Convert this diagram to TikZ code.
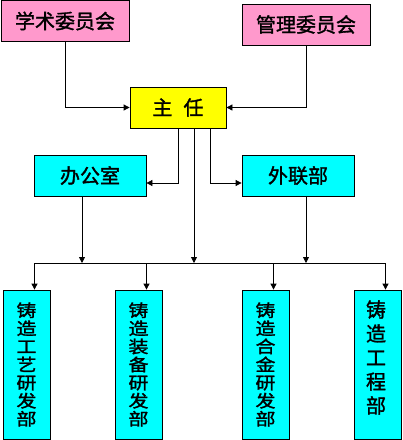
\documentclass[tikz,border=0pt]{standalone}
\usepackage{fontspec}
\newfontfamily\cjk{Noto Sans CJK SC}[AutoFakeBold=1.5]
\newfontfamily\cjkw{Noto Sans CJK SC}[AutoFakeBold=1.5, FakeStretch=1.18]
\usetikzlibrary{arrows.meta}
\definecolor{pinkc}{HTML}{FF99CC}
\definecolor{yelc}{HTML}{FFFF00}
\definecolor{cyanc}{HTML}{00FFFF}
\tikzset{
  box/.style={draw=black, line width=0.8pt, inner sep=0pt, font=\cjk\bfseries\fontsize{20}{20}\selectfont},
  topbox/.style={box, fill=pinkc, minimum width=128pt, minimum height=41pt},
  headbox/.style={box, fill=yelc, minimum width=96pt, minimum height=41pt},
  midbox/.style={box, fill=cyanc, minimum width=112pt, minimum height=41pt},
  deptbox/.style={box, fill=cyanc, minimum width=47pt, minimum height=149pt, align=center, font=\cjkw\bfseries\fontsize{17}{18.1}\selectfont},
  conn/.style={line width=0.8pt, draw=black},
  arr/.style={conn, -{Triangle[length=6pt,width=6pt]}}
}
\begin{document}
\begin{tikzpicture}[x=1pt,y=-1pt]
\useasboundingbox (0,0) rectangle (403,440);
\node[topbox] (xs) at (65,21) {学术委员会};
\node[topbox] (gl) at (306,24.5) {管理委员会};
\node[headbox] (zr) at (178,107.5) {主\hspace{0.55em}任};
\node[midbox] (bgs) at (90,175.5) {办公室};
\node[midbox] (wlb) at (298,175.5) {外联部};
\node[deptbox] (d1) at (26.5,364.5) {铸\\造\\工\\艺\\研\\发\\部};
\node[deptbox] (d2) at (138.5,364.5) {铸\\造\\装\\备\\研\\发\\部};
\node[deptbox] (d3) at (265.5,364.5) {铸\\造\\合\\金\\研\\发\\部};
\node[deptbox] (d4) at (377.5,364.5) {};
\node[align=center, inner sep=0pt, font=\cjk\bfseries\fontsize{20}{24}\selectfont] (d4t) at (376,357.5) {铸\\造\\工\\程\\部};
\coordinate (bus) at (0,263);
% committees to head
\draw[arr] (xs.south) |- (zr.west);
\draw[arr] (gl.south) |- (zr.east);
% head to office / liaison
\draw[arr] (zr.south) |- ([yshift=-7.5pt]bgs.east);
\draw[arr] ([xshift=32pt]zr.south) |- ([yshift=-7.5pt]wlb.west);
% to bus
\coordinate (c1) at ([xshift=16pt]zr.south);
\coordinate (o1) at ([xshift=-8pt]bgs.south);
\coordinate (w1) at ([xshift=8pt]wlb.south);
\draw[arr] (c1) -- (c1 |- bus);
\draw[arr] (o1) -- (o1 |- bus);
\draw[arr] (w1) -- (w1 |- bus);
% bus and departments
\coordinate (t1) at ([xshift=8pt]d1.north);
\coordinate (t2) at ([xshift=8pt]d2.north);
\coordinate (t3) at ([xshift=8pt]d3.north);
\coordinate (t4) at ([xshift=8pt]d4.north);
\draw[conn] (t1 |- bus) -- (t4 |- bus);
\draw[arr] (t1 |- bus) -- (t1);
\draw[arr] (t2 |- bus) -- (t2);
\draw[arr] (t3 |- bus) -- (t3);
\draw[arr] (t4 |- bus) -- (t4);
\end{tikzpicture}
\end{document}
